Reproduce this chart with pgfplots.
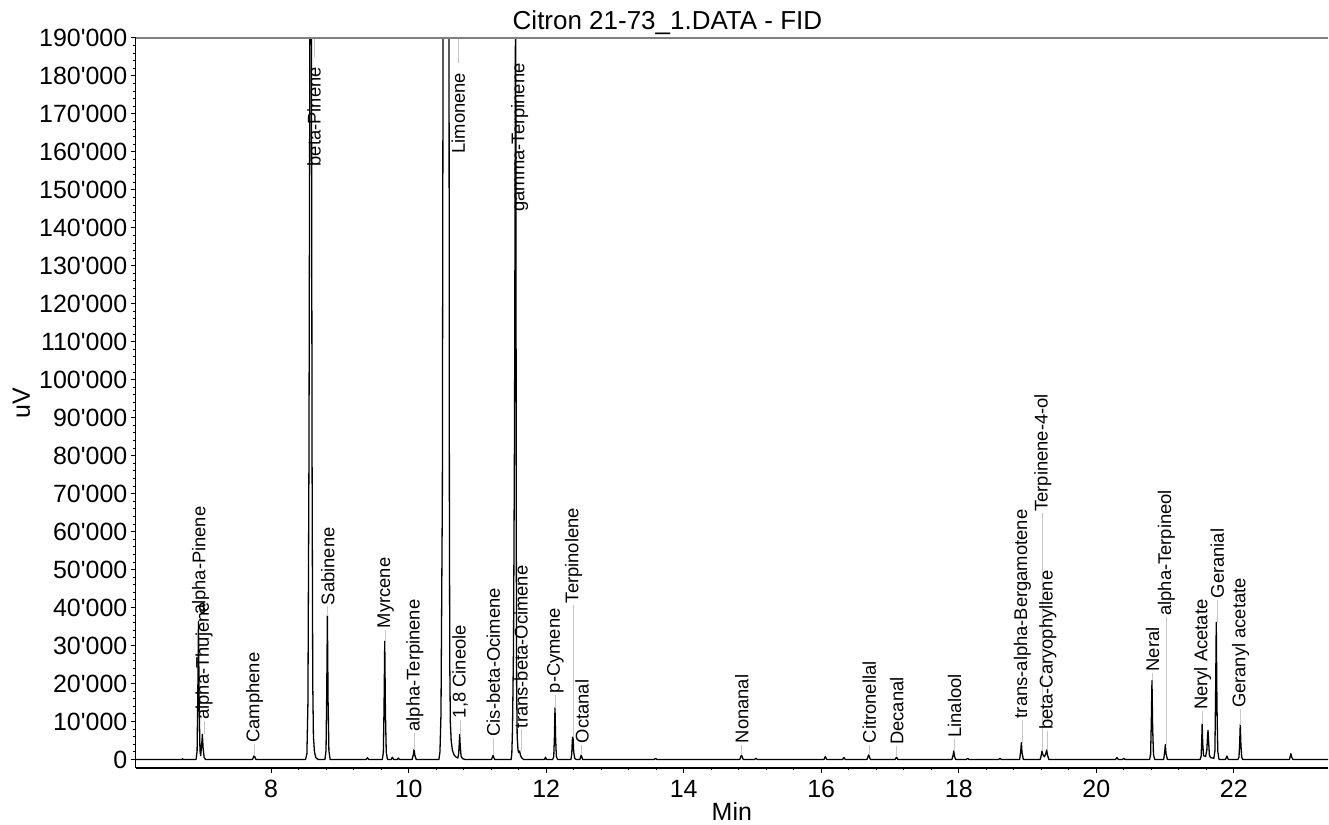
\documentclass[border=0pt]{standalone}
\usepackage{pgfplots}
\usepackage{pgfplotstable}
\pgfplotsset{compat=1.18}
\usepackage{fontspec}
\setmainfont{Liberation Sans}

\newcommand\tickfont{\fontsize{12.5pt}{15pt}\selectfont}
\newcommand\titlefont{\fontsize{13pt}{15pt}\selectfont}
\newcommand\peakfont{\fontsize{9.2pt}{11pt}\selectfont}

% peak annotations: x of line/label, line from ya to yb, label starts at yl
\pgfplotstableread{
lx      ya      yb      yl      name
6.975   36400   37700   37700   alpha-Pinene
7.025   6600    10100   10100   alpha-Thujene
7.76    1000    4100    4100    Camphene
8.625   190000  185000  155800  beta-Pinene
8.825   37900   40300   40300   Sabinene
9.665   31100   34200   34200   Myrcene
10.09   2600    7000    7000    alpha-Terpinene
10.72   190000  183400  159200  Limonene
10.75   6600    10500   10500   {1,8 Cineole}
11.23   1050    5700    5700    Cis-beta-Ocimene
11.615  143900  143900  143900  gamma-Terpinene
11.635  2200    7900    7900    trans-beta-Ocimene
12.135  13600   17100   17100   p-Cymene
12.40   5900    40800   40800   Terpinolene
12.52   1200    3900    3900    Octanal
14.845  1200    3900    3900    Nonanal
16.70   1200    3900    3900    Citronellal
17.10   600     3500    3500    Decanal
17.94   2200    5400    5400    Linalool
18.925  4400    10500   10500   trans-alpha-Bergamotene
19.225  2200    64900   64900   Terpinene-4-ol
19.295  2500    7400    7400    beta-Caryophyllene
20.82   20800   22800   22800   Neral
21.02   3900    37500   37500   alpha-Terpineol
21.545  9400    12700   12700   {Neryl Acetate}
21.76   36100   42100   42100   Geranial
22.10   9200    13200   13200   {Geranyl acetate}
}\peaks

\begin{document}
\begin{tikzpicture}
\begin{axis}[
    name=ax,
    width=596.6pt, height=365.2pt,
    scale only axis,
    xmin=6.03, xmax=23.37,
    ymin=-2200, ymax=190000,
    axis x line*=bottom,
    axis y line*=left,
    axis line style={-, black, line width=0.7pt},
    clip mode=individual,
    xtick={8,10,...,22},
    ytick={0,10000,...,190000},
    minor x tick num=4,
    minor y tick num=4,
    tick align=outside,
    major tick length=2.5pt,
    minor tick length=1.2pt,
    tick style={black, line width=0.5pt},
    scaled y ticks=false,
    /pgf/number format/assume math mode=true,
    y tick label style={
        /pgf/number format/fixed,
        /pgf/number format/precision=0,
        /pgf/number format/1000 sep={\textquotesingle},
        inner xsep=1.5pt},
    x tick label style={inner ysep=3pt, yshift=-0.5pt},
    ticklabel style={font=\tickfont},
    title={Citron 21-73\_1.DATA - FID},
    title style={at={(0.446,1)}, anchor=base, yshift=-2pt, inner sep=0pt, font=\titlefont},
    xlabel={Min},
    xlabel style={at={(axis description cs:0.5,0)}, anchor=base, yshift=-26.5pt, inner sep=0pt, font=\tickfont},
    ylabel={uV},
    ylabel style={at={(axis description cs:-0.0887,0.5)}, anchor=base, inner sep=0pt, font=\tickfont},
]
% chromatogram trace
\addplot[black, line width=0.65pt, line join=round] coordinates {
(6.03,0) (6.70,0) (6.71,200) (6.72,0)
(6.908,0) (6.923,2200) (6.933,16400) (6.943,36400) (6.953,14600) (6.965,2200)
(6.975,1000) (6.99,4000) (7.0,6600) (7.01,3000) (7.025,600) (7.045,0)
(7.728,0) (7.753,1000) (7.78,0)
(8.50,0) (8.52,1500) (8.535,15000) (8.55,80000) (8.563,190000) (8.57,300000)
(8.58,300000) (8.586,190000) (8.595,80000) (8.605,20000) (8.615,6000) (8.63,2000) (8.65,500) (8.68,0)
(8.783,0) (8.798,2300) (8.808,17000) (8.818,37900) (8.828,15200) (8.84,2300) (8.858,0)
(9.38,0) (9.40,450) (9.42,0)
(9.617,0) (9.632,1900) (9.642,14000) (9.652,31100) (9.662,12400) (9.674,1900) (9.692,0)
(9.745,0) (9.763,600) (9.78,0) (9.835,0) (9.85,400) (9.865,0)
(10.05,0) (10.068,1300) (10.078,2600) (10.09,1100) (10.11,0)
(10.44,0) (10.455,2000) (10.47,12000) (10.49,70000) (10.50,190000) (10.503,300000)
(10.583,300000) (10.587,190000) (10.592,70000) (10.598,25000) (10.606,10000) (10.618,5000)
(10.635,2500) (10.66,1200) (10.69,600) (10.715,400)
(10.727,1500) (10.735,4000) (10.742,6600) (10.75,3500) (10.762,900) (10.785,200) (10.82,0)
(11.205,0) (11.227,1050) (11.25,0)
(11.49,0) (11.50,1500) (11.51,8000) (11.525,30000) (11.54,90000) (11.55,170000) (11.556,220000)
(11.56,150000) (11.565,60000) (11.57,20000) (11.578,6000) (11.59,2500) (11.60,1800) (11.614,2200)
(11.625,1200) (11.64,500) (11.67,0)
(11.975,0) (11.99,600) (12.005,0)
(12.095,0) (12.11,800) (12.12,6000) (12.128,13600) (12.137,5500) (12.148,800) (12.165,0)
(12.36,0) (12.372,1500) (12.38,5000) (12.385,5900) (12.392,5400) (12.40,2000) (12.415,300) (12.435,0)
(12.49,0) (12.51,1200) (12.53,0)
(13.57,0) (13.59,300) (13.61,0)
(14.815,0) (14.84,1200) (14.865,0)
(15.03,0) (15.05,300) (15.07,0)
(16.04,0) (16.06,800) (16.08,0)
(16.31,0) (16.33,500) (16.35,0)
(16.665,0) (16.69,1200) (16.715,0)
(17.075,0) (17.095,600) (17.115,0)
(17.90,0) (17.917,1000) (17.927,2200) (17.937,900) (17.955,0)
(18.11,0) (18.13,300) (18.15,0)
(18.58,0) (18.60,300) (18.62,0)
(18.885,0) (18.90,2000) (18.911,4400) (18.92,1800) (18.94,0)
(19.185,0) (19.20,1100) (19.21,2200) (19.225,1200) (19.245,700) (19.265,1500) (19.279,2500) (19.29,1200) (19.31,0)
(20.28,0) (20.30,500) (20.32,0) (20.38,0) (20.40,300) (20.42,0)
(20.775,0) (20.79,1300) (20.80,9400) (20.81,20800) (20.82,8300) (20.832,1300) (20.85,0)
(20.98,0) (20.994,1800) (21.004,3900) (21.014,1600) (21.035,0)
(21.51,0) (21.525,900) (21.533,4500) (21.54,9400) (21.548,4200) (21.56,1000) (21.59,800)
(21.608,2500) (21.618,6000) (21.625,7700) (21.633,5000) (21.645,1200) (21.66,500)
(21.71,300) (21.725,2200) (21.735,16000) (21.745,36100) (21.755,14500) (21.767,2200) (21.785,0)
(21.88,0) (21.90,900) (21.92,0)
(22.06,0) (22.075,600) (22.085,4000) (22.094,9200) (22.103,4000) (22.115,600) (22.13,0)
(22.81,0) (22.83,1500) (22.845,500) (22.86,0)
(23.37,0)
};
% grey leader lines from peak to label
\addplot[black!22, line width=0.5pt,
    quiver={u=0, v=\thisrow{yb}-\thisrow{ya}}]
    table[x=lx, y=ya] {\peaks};
% peak names
\addplot[draw=none, mark=none,
    nodes near coords,
    point meta=explicit symbolic,
    every node near coord/.append style={rotate=90, anchor=west,
        inner sep=0.5pt, font=\peakfont, text=black}]
    table[x=lx, y=yl, meta=name] {\peaks};
% grey frame line on top
\draw[gray, line width=1pt] (rel axis cs:0,1) -- (rel axis cs:1,1);
\end{axis}
\path (ax.south west) ++(-67.9pt,-28.35pt);
\path (ax.north east) ++(0pt,19pt);
\end{tikzpicture}
\end{document}
